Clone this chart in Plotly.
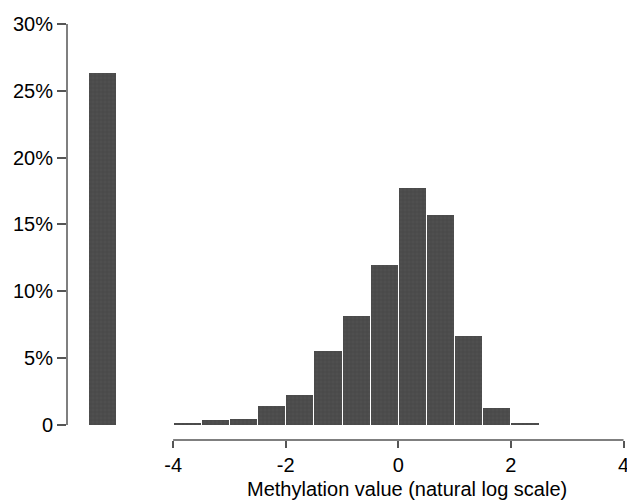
import plotly.graph_objects as go

# Data
bin_left = [-4.0, -3.5, -3.0, -2.5, -2.0, -1.5, -1.0, -0.5, 0.0, 0.5, 1.0, 1.5, 2.0]
bin_pct = [0.1, 0.4, 0.47, 1.42, 2.25, 5.54, 8.16, 11.95, 17.76, 15.72, 6.66, 1.25, 0.13]
bin_width = 0.5
zero_bar_center = [-5.25]
zero_bar_pct = [26.3]
x_ticks = [-4, -2, 0, 2, 4]
x_ticktext = ["-4", "-2", "0", "2", "4"]
y_ticks = [0, 5, 10, 15, 20, 25, 30]
y_ticktext = ["0", "5%", "10%", "15%", "20%", "25%", "30%"]
x_title = "Methylation value (natural log scale)"

bar_color = "#4a4a4a"
font = "Liberation Sans, Arial, sans-serif"
drawn_width = bin_width - 0.018  # leaves ~1px white gap between bars

bar_marker = dict(color=bar_color, line=dict(width=0),
                  pattern=dict(shape="+", fgcolor="#707070", bgcolor=bar_color, size=4, solidity=0.12))

fig = go.Figure()
fig.add_trace(go.Bar(
    x=[b + bin_width / 2 for b in bin_left], y=bin_pct, width=drawn_width,
    marker=bar_marker, showlegend=False, hoverinfo="skip"))
fig.add_trace(go.Bar(
    x=zero_bar_center, y=zero_bar_pct, width=drawn_width,
    marker=bar_marker, showlegend=False, hoverinfo="skip"))

axis_col = "#555555"
# x axis line from first to last tick, offset below the bar baseline (plot bottom)
fig.add_shape(type="line", xref="x", yref="paper", x0=min(x_ticks), x1=max(x_ticks), y0=0, y1=0,
              line=dict(color=axis_col, width=1.5))
# y axis line from 0 to top tick
fig.add_shape(type="line", xref="paper", yref="y", x0=0, x1=0, y0=min(y_ticks), y1=max(y_ticks),
              line=dict(color=axis_col, width=1.5))

fig.update_layout(
    width=627, height=500,
    margin=dict(l=67, r=0, t=24, b=60, autoexpand=False),
    paper_bgcolor="white", plot_bgcolor="white",
    bargap=0,
    font=dict(family=font, size=20, color="black"),
    xaxis=dict(range=[-5.885, 4.062], tickvals=x_ticks, ticktext=x_ticktext, ticks="outside",
               ticklen=7, tickcolor=axis_col, tickwidth=1.5, showgrid=False, zeroline=False,
               showline=False, tickfont=dict(size=20), fixedrange=True, automargin=False,
               ticklabeloverflow="allow"),
    yaxis=dict(range=[-1.123, 30], tickvals=y_ticks, ticktext=y_ticktext, ticks="outside",
               ticklen=9, tickcolor=axis_col, tickwidth=1.5, showgrid=False, zeroline=False,
               showline=False, tickfont=dict(size=20), fixedrange=True, automargin=False),
    annotations=[dict(text=x_title, xref="paper", yref="paper", x=0.608, y=-0.118,
                      xanchor="center", yanchor="middle", showarrow=False,
                      font=dict(size=20, family=font, color="black"))],
)

fig.write_html("out.html", config={"displayModeBar": False},
               post_script="document.body.style.margin='0';document.body.style.overflow='hidden';")
